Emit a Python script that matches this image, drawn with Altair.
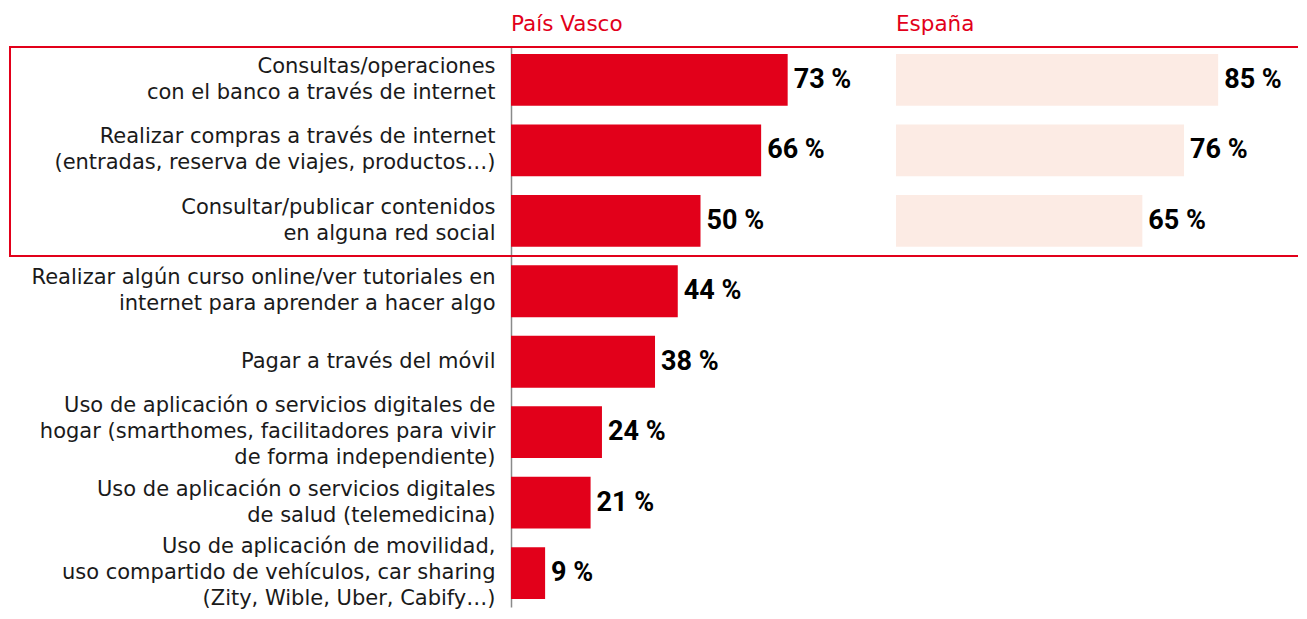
import altair as alt
import pandas as pd

categories = [
    "Consultas/operaciones|con el banco a través de internet",
    "Realizar compras a través de internet|(entradas, reserva de viajes, productos…)",
    "Consultar/publicar contenidos|en alguna red social",
    "Realizar algún curso online/ver tutoriales en|internet para aprender a hacer algo",
    "Pagar a través del móvil",
    "Uso de aplicación o servicios digitales de|hogar (smarthomes, facilitadores para vivir|de forma independiente)",
    "Uso de aplicación o servicios digitales|de salud (telemedicina)",
    "Uso de aplicación de movilidad,|uso compartido de vehículos, car sharing|(Zity, Wible, Uber, Cabify…)",
]
pais_vasco = [73, 66, 50, 44, 38, 24, 21, 9]
espana = [85, 76, 65]
espana_categories = categories[:3]

RED = "#e2001a"
PINK = "#fcebe4"
FONT = "DejaVu Sans"
NUM_FONT = "Roboto"

H = 561
W = 379
P_IN = 0.265
P_OUT = 0.1125
STEP = H / (len(categories) - P_IN + 2 * P_OUT)
BW = STEP * (1 - P_IN)
BOX_BOTTOM = P_OUT * STEP + 3 * STEP - (STEP - BW) / 2
LH = 26

df_pv = pd.DataFrame({"cat": categories, "v": pais_vasco})
df_es = pd.DataFrame({"cat": espana_categories, "v": espana})

yscale = alt.Scale(domain=categories, paddingInner=P_IN, paddingOuter=P_OUT)
xscale = alt.Scale(domain=[0, 100])

NLINES = "length(split(datum.value, '|'))"


def panel(df, color, title, with_axis):
    if with_axis:
        y = alt.Y(
            "cat:N",
            scale=yscale,
            sort=categories,
            axis=alt.Axis(
                title=None, ticks=False, grid=False, domain=True,
                domainColor="#8a8a8a", domainWidth=1.5,
                labelExpr="split(datum.label, '|')",
                labelFont=FONT, labelFontSize=21, labelColor="#1a1a1a",
                labelAlign="right",
                labelBaseline={
                    "condition": {"test": NLINES + " == 1", "value": "line-top"},
                    "value": "middle",
                },
                labelOffset={
                    "condition": {"test": NLINES + " == 3", "value": -LH},
                    "value": -LH / 2,
                },
                labelLineHeight=LH, labelPadding=16, labelLimit=700,
                labelOverlap=False,
            ),
        )
    else:
        y = alt.Y("cat:N", scale=yscale, sort=categories, axis=None)
    base = alt.Chart(df).encode(y=y)
    bars = base.mark_bar(color=color).encode(
        x=alt.X("v:Q", scale=xscale, axis=None)
    )
    text = base.mark_text(
        align="left", baseline="middle", dx=6, font=NUM_FONT, fontSize=27,
        fontWeight="bold", color="#000000",
    ).transform_calculate(lbl="datum.v + ' %'").encode(
        x=alt.X("v:Q", scale=xscale, axis=None), text="lbl:N"
    )
    layers = [bars, text]
    if with_axis:
        box = alt.Chart(pd.DataFrame({"a": [0]})).mark_rect(
            fillOpacity=0, stroke=RED, strokeWidth=2
        ).encode(
            x=alt.value(-501), x2=alt.value(800),
            y=alt.value(1), y2=alt.value(BOX_BOTTOM),
        )
        layers.append(box)
    return alt.layer(*layers).properties(
        width=W, height=H,
        title=alt.TitleParams(
            title, anchor="start", frame="group", color=RED, font=FONT,
            fontSize=21.5, fontWeight="normal", offset=11,
        ),
    )


left = panel(df_pv, RED, "País Vasco", True)
right = panel(df_es, PINK, "España", False)

chart = alt.hconcat(left, right, spacing=6, bounds="flush").configure_view(
    strokeOpacity=0
).properties(padding={"left": 1, "top": 5, "right": -14, "bottom": 0})

chart.save("out.html", embed_options={"renderer": "svg", "actions": False})
